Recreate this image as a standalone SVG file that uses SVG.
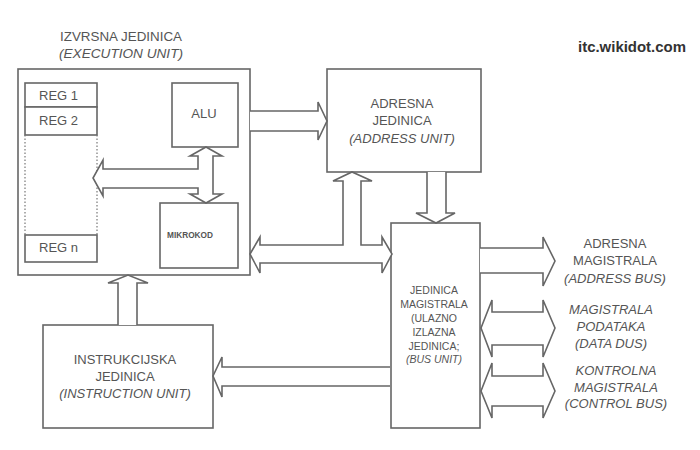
<svg xmlns="http://www.w3.org/2000/svg" width="700" height="450" viewBox="0 0 700 450">
<style>
.box{fill:#fff;stroke:#666;stroke-width:1.6}
.arr{fill:#fff;stroke:#666;stroke-width:1.6;stroke-linejoin:miter}
.dot{stroke:#777;stroke-width:1.2;stroke-dasharray:1.5 2;fill:none}
text{font-family:"Liberation Sans",Arial,sans-serif;fill:#555;font-size:13px;text-anchor:middle}
.it{font-style:italic}
.sm{font-size:10.5px}
</style>
<rect width="700" height="450" fill="#fff"/>
<text x="632" y="52" style="font-size:14px;font-weight:bold;fill:#333" textLength="108" lengthAdjust="spacingAndGlyphs">itc.wikidot.com</text>

<g id="execution-unit">
<text x="121" y="41" textLength="122" lengthAdjust="spacingAndGlyphs">IZVRSNA JEDINICA</text>
<text x="121" y="58" class="it" textLength="124" lengthAdjust="spacingAndGlyphs">(EXECUTION UNIT)</text>
<rect class="box" x="18" y="69" width="232" height="206"/>
</g>
<g id="registers">
<rect class="box" x="25" y="83" width="72" height="24"/>
<rect class="box" x="25" y="107" width="72" height="28"/>
<line class="dot" x1="25" y1="135" x2="25" y2="235"/>
<line class="dot" x1="97" y1="135" x2="97" y2="235"/>
<rect class="box" x="25" y="235" width="72" height="27"/>
<text x="39" y="100" style="text-anchor:start">REG 1</text>
<text x="39" y="125" style="text-anchor:start">REG 2</text>
<text x="39" y="252" style="text-anchor:start">REG n</text>
</g>
<g id="alu">
<rect class="box" x="172" y="83" width="66" height="64"/>
<text x="204" y="118">ALU</text>
</g>
<g id="mikrokod">
<rect class="box" x="160" y="203" width="78" height="65"/>
<text x="190" y="238" style="font-size:8.5px;font-weight:bold" textLength="46" lengthAdjust="spacingAndGlyphs">MIKROKOD</text>
</g>
<g id="address-unit">
<rect class="box" x="327" y="69" width="154" height="103"/>
<text x="402" y="108">ADRESNA</text>
<text x="402" y="125">JEDINICA</text>
<text x="402" y="143" class="it">(ADDRESS UNIT)</text>
</g>
<g id="bus-unit">
<rect class="box" x="391" y="223" width="89" height="205"/>
<text x="434" y="294" class="sm">JEDINICA</text>
<text x="434" y="308" class="sm">MAGISTRALA</text>
<text x="434" y="322" class="sm">(ULAZNO</text>
<text x="434" y="336" class="sm">IZLAZNA</text>
<text x="434" y="350" class="sm">JEDINICA;</text>
<text x="434" y="363" class="sm it">(BUS UNIT)</text>
</g>
<g id="instruction-unit">
<rect class="box" x="43" y="325" width="170" height="103"/>
<text x="125" y="364">INSTRUKCIJSKA</text>
<text x="125" y="381">JEDINICA</text>
<text x="125" y="398" class="it">(INSTRUCTION UNIT)</text>
</g>
<g id="address-bus">
<text x="615" y="248">ADRESNA</text>
<text x="615" y="265">MAGISTRALA</text>
<text x="615" y="283" class="it">(ADDRESS BUS)</text>
</g>
<g id="data-bus">
<text x="611" y="314" class="it">MAGISTRALA</text>
<text x="611" y="331" class="it">PODATAKA</text>
<text x="611" y="348" class="it">(DATA DUS)</text>
</g>
<g id="control-bus">
<text x="616" y="375" class="it">KONTROLNA</text>
<text x="616" y="392" class="it">MAGISTRALA</text>
<text x="616" y="408" class="it">(CONTROL BUS)</text>
</g>

<g id="connectors">
<path class="arr" d="M206,147 L222,156 L213,156 L213,194 L222,194 L206,203 L190,194 L198,194 L198,188 L103,188 L103,196 L93,178 L103,160 L103,169 L198,169 L198,156 L190,156 Z"/>
<path class="arr" d="M250,111 L318,111 L318,102 L327,121 L318,140 L318,131 L250,131"/>
<path class="arr" d="M427,172 L427,213 L416,213 L436,223 L455,213 L446,213 L446,172"/>
<path class="arr" d="M250,254 L260,237 L260,245 L343,245 L343,181 L333,181 L352,172 L372,181 L361,181 L361,245 L382,245 L382,237 L392,254 L382,273 L382,263 L260,263 L260,273 Z"/>
<path class="arr" d="M480,248 L543,248 L543,237 L555,261 L543,286 L543,273 L480,273"/>
<path class="arr" d="M481,328 L492,300 L492,312 L543,312 L543,300 L555,328 L543,357 L543,345 L492,345 L492,357 Z"/>
<path class="arr" d="M481,391 L492,363 L492,376 L543,376 L543,363 L555,391 L543,418 L543,406 L492,406 L492,418 Z"/>
<path class="arr" d="M118,325 L118,283 L108,283 L128,275 L148,283 L137,283 L137,325"/>
<path class="arr" d="M390,367 L222,367 L222,357 L213,376 L222,397 L222,386 L390,386"/>
</g>
</svg>
